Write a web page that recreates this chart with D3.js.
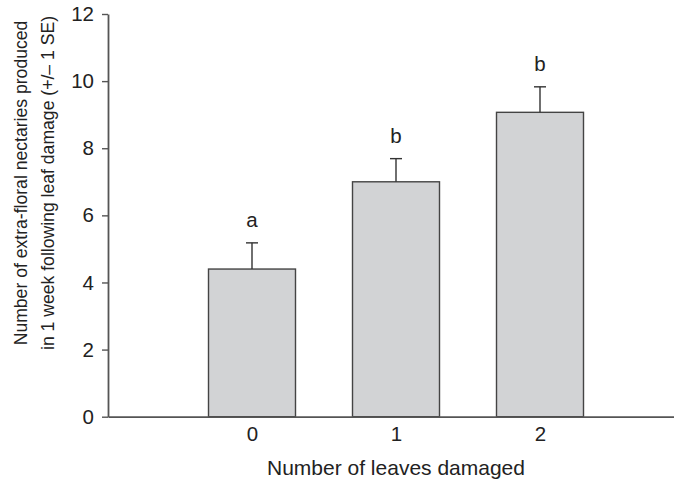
<!DOCTYPE html>
<html>
<head>
<meta charset="utf-8">
<script src="https://cdn.jsdelivr.net/npm/d3@7"></script>
<style>
  html, body { margin: 0; padding: 0; background: #fff; }
  svg { display: block; font-family: "Liberation Sans", Arial, sans-serif; }
</style>
</head>
<body>
<svg id="chart" width="674" height="479"></svg>
<script>
// Extra-floral nectaries produced per leaf-damage treatment
const categories = [0, 1, 2];
const means = [4.40, 7.00, 9.07];
const stdErrors = [0.78, 0.69, 0.76];
const groupLetters = ["a", "b", "b"];
const yTicks = [0, 2, 4, 6, 8, 10, 12];

const svg = d3.select("#chart");
const textColor = "#222";
const axisColor = "#555";

const x = d3.scaleLinear().domain([-1, 3]).range([108, 684]);
const y = d3.scaleLinear().domain([0, 12]).range([416.7, 14]);
const barWidth = 87;

// bars
svg.selectAll("rect.bar")
  .data(categories)
  .join("rect")
  .attr("class", "bar")
  .attr("x", (d) => x(d) - barWidth / 2)
  .attr("width", barWidth)
  .attr("y", (d, i) => y(means[i]))
  .attr("height", (d, i) => y(0) - y(means[i]))
  .attr("fill", "#d2d3d5")
  .attr("stroke", "#444")
  .attr("stroke-width", 1.4);

// upper error bars
const err = svg.append("g").attr("stroke", "#333").attr("stroke-width", 1.4);
categories.forEach((d, i) => {
  const cx = x(d);
  err.append("line")
    .attr("x1", cx).attr("x2", cx)
    .attr("y1", y(means[i])).attr("y2", y(means[i] + stdErrors[i]));
  err.append("line")
    .attr("x1", cx - 6).attr("x2", cx + 6)
    .attr("y1", y(means[i] + stdErrors[i])).attr("y2", y(means[i] + stdErrors[i]));
});

// significance letters
svg.selectAll("text.grp")
  .data(categories)
  .join("text")
  .attr("class", "grp")
  .attr("x", (d) => x(d))
  .attr("y", (d, i) => y(means[i] + stdErrors[i]) - 16)
  .attr("text-anchor", "middle")
  .attr("font-size", 20.5)
  .attr("fill", textColor)
  .text((d, i) => groupLetters[i]);

// y axis
const yAxis = svg.append("g")
  .attr("transform", `translate(${x(-1)},0)`)
  .call(d3.axisLeft(y).tickValues(yTicks).tickSize(6).tickPadding(8).tickSizeOuter(0));
yAxis.select(".domain").attr("stroke", axisColor).attr("stroke-width", 1.8);
yAxis.selectAll(".tick line").attr("stroke", axisColor).attr("stroke-width", 1.4);
yAxis.selectAll(".tick text")
  .attr("font-size", 20.5)
  .attr("fill", textColor)
  .attr("font-family", "Liberation Sans, Arial, sans-serif");

// x axis (no tick marks)
const xAxis = svg.append("g")
  .attr("transform", `translate(0,${y(0)})`)
  .call(d3.axisBottom(x).tickValues(categories).tickFormat(d3.format("d")).tickSize(0).tickPadding(10).tickSizeOuter(0));
xAxis.select(".domain").attr("stroke", axisColor).attr("stroke-width", 1.8);
xAxis.selectAll(".tick text")
  .attr("font-size", 20.5)
  .attr("fill", textColor)
  .attr("font-family", "Liberation Sans, Arial, sans-serif");

// axis titles
svg.append("text")
  .attr("x", x(1))
  .attr("y", 475)
  .attr("text-anchor", "middle")
  .attr("font-size", 21)
  .attr("fill", textColor)
  .text("Number of leaves damaged");

const yTitle = svg.append("text")
  .attr("transform", "translate(0,183) rotate(-90)")
  .attr("text-anchor", "middle")
  .attr("font-size", 17.6)
  .attr("fill", textColor);
yTitle.append("tspan").attr("x", 0).attr("y", 27).text("Number of extra-floral nectaries produced");
yTitle.append("tspan").attr("x", 0).attr("y", 53.5).text("in 1 week following leaf damage (+/\u2013 1 SE)");
</script>
</body>
</html>
